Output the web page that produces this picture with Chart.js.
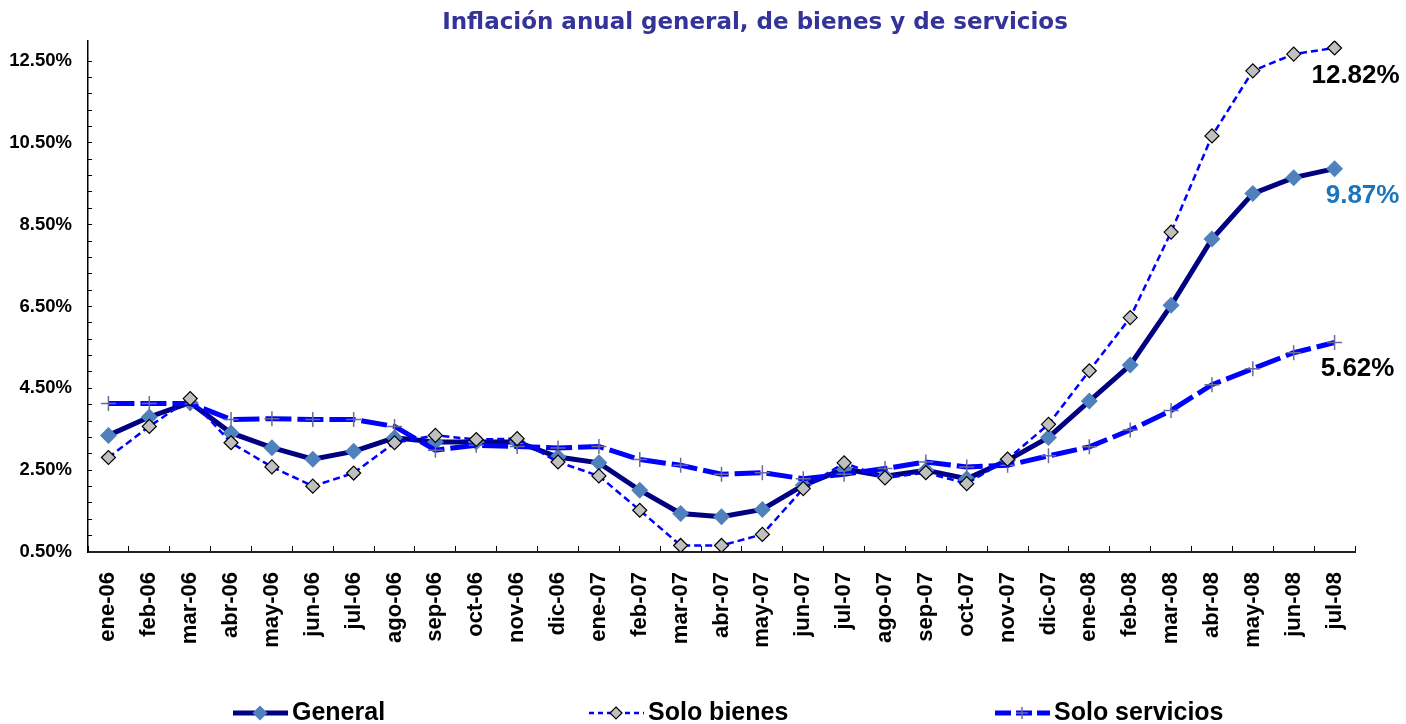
<!DOCTYPE html>
<html><head><meta charset="utf-8">
<script src="https://cdn.jsdelivr.net/npm/chart.js@4.4.1/dist/chart.umd.min.js"></script>
<style>html,body{margin:0;padding:0;background:#fff;}#wrap{width:1406px;height:724px;}</style>
</head><body><div id="wrap"><canvas id="c" width="1406" height="724"></canvas></div>
<script>
const categories = ['ene-06','feb-06','mar-06','abr-06','may-06','jun-06','jul-06','ago-06','sep-06','oct-06','nov-06','dic-06',
  'ene-07','feb-07','mar-07','abr-07','may-07','jun-07','jul-07','ago-07','sep-07','oct-07','nov-07','dic-07',
  'ene-08','feb-08','mar-08','abr-08','may-08','jun-08','jul-08'];
const general = [3.35,3.80,4.15,3.41,3.05,2.77,2.96,3.29,3.19,3.19,3.19,2.82,
  2.68,2.01,1.44,1.36,1.54,2.13,2.53,2.35,2.50,2.29,2.74,3.30,
  4.19,5.07,6.53,8.15,9.26,9.65,9.87];
const soloBienes = [2.81,3.57,4.25,3.17,2.58,2.11,2.43,3.17,3.35,3.25,3.27,2.70,
  2.36,1.52,0.66,0.66,0.93,2.05,2.68,2.31,2.44,2.17,2.77,3.62,
  4.93,6.23,8.32,10.67,12.26,12.67,12.82];
const soloServicios = [4.13,4.13,4.13,3.74,3.76,3.74,3.74,3.57,2.99,3.11,3.08,3.04,
  3.08,2.76,2.62,2.40,2.44,2.29,2.40,2.54,2.70,2.58,2.62,2.85,
  3.07,3.48,3.96,4.59,4.98,5.37,5.62];
const seriesNames = ['General','Solo bienes','Solo servicios'];
const yTickLabels = [0.5,2.5,4.5,6.5,8.5,10.5,12.5];
const yMinorTicks = [0.5,0.9,1.3,1.7,2.1,2.5,2.9,3.3,3.7,4.1,4.5,4.9,5.3,5.7,6.1,6.5,6.9,7.3,7.7,8.1,8.5,8.9,9.3,9.7,10.1,10.5,10.9,11.3,11.7,12.1,12.5];
const endLabels = ['9.87%','12.82%','5.62%'];
const titleText = 'Inflación anual general, de bienes y de servicios';

const FONT = "'Liberation Sans', Arial, sans-serif";
const TITLE_FONT = "'DejaVu Sans', 'Liberation Sans', Arial, sans-serif";

function drawMarker(ctx, style, x, y, r, fill, stroke, bw) {
  ctx.save();
  ctx.beginPath();
  ctx.setLineDash([]);
  if (style === 'rectRot') {
    ctx.moveTo(x, y - r); ctx.lineTo(x + r, y); ctx.lineTo(x, y + r); ctx.lineTo(x - r, y); ctx.closePath();
    ctx.fillStyle = fill; ctx.fill();
    if (bw > 0) { ctx.lineWidth = bw; ctx.strokeStyle = stroke; ctx.stroke(); }
  } else {
    ctx.moveTo(x - r, y); ctx.lineTo(x + r, y); ctx.moveTo(x, y - r); ctx.lineTo(x, y + r);
    ctx.lineWidth = bw; ctx.strokeStyle = stroke; ctx.stroke();
  }
  ctx.restore();
}

const customLegend = {
  id: 'customLegend',
  afterDraw(chart) {
    const ctx = chart.ctx;
    const starts = [233, 589, 995];
    const y = 713;
    chart.data.datasets.forEach((ds, i) => {
      const x0 = starts[i];
      ctx.save();
      ctx.beginPath();
      ctx.setLineDash(ds.legendDash || []);
      ctx.lineWidth = ds.borderWidth;
      ctx.strokeStyle = ds.borderColor;
      ctx.moveTo(x0, y); ctx.lineTo(x0 + 55, y);
      ctx.stroke();
      ctx.restore();
      drawMarker(ctx, ds.pointStyle, x0 + 27, y, ds.legendRadius, ds.pointBackgroundColor, ds.pointBorderColor, ds.pointBorderWidth);
      ctx.save();
      ctx.font = "bold 25px " + FONT;
      ctx.fillStyle = '#000';
      ctx.textBaseline = 'middle';
      ctx.textAlign = 'left';
      ctx.fillText(ds.label, x0 + 59, y);
      ctx.restore();
    });
  }
};

const endLabelPlugin = {
  id: 'endLabelPlugin',
  afterDatasetsDraw(chart) {
    const ctx = chart.ctx;
    const cfg = [
      {dx: 28, dy: 27, color: '#1B75BC'},
      {dx: 21, dy: 28, color: '#000000'},
      {dx: 23, dy: 26, color: '#000000'}
    ];
    chart.data.datasets.forEach((ds, i) => {
      const meta = chart.getDatasetMeta(i);
      const pt = meta.data[meta.data.length - 1];
      ctx.save();
      ctx.font = "bold 26px " + FONT;
      ctx.fillStyle = cfg[i].color;
      ctx.textAlign = 'center';
      ctx.textBaseline = 'middle';
      ctx.fillText(endLabels[i], pt.x + cfg[i].dx, pt.y + cfg[i].dy);
      ctx.restore();
    });
  }
};

const shiftTitle = {
  id: 'shiftTitle',
  afterLayout(chart) {
    if (chart.titleBlock) {
      const c = (chart.titleBlock.left + chart.titleBlock.right) / 2;
      const d = 755 - c;
      chart.titleBlock.left += d; chart.titleBlock.right += d;
    }
  }
};

new Chart(document.getElementById('c'), {
  type: 'line',
  data: {
    labels: categories,
    datasets: [
      { label: seriesNames[0], data: general, borderColor: '#000080', borderWidth: 5, tension: 0,
        pointStyle: 'rectRot', pointRadius: 8.5, pointBackgroundColor: '#4F81BD', pointBorderColor: '#4F81BD', pointBorderWidth: 0,
        legendRadius: 7.5, order: 3 },
      { label: seriesNames[1], data: soloBienes, borderColor: '#0000FF', borderWidth: 2.5, borderDash: [7, 4], legendDash: [5, 4], tension: 0,
        pointStyle: 'rectRot', pointRadius: 7, pointBackgroundColor: '#C0C0C0', pointBorderColor: '#000000', pointBorderWidth: 1.2,
        legendRadius: 6, order: 1 },
      { label: seriesNames[2], data: soloServicios, borderColor: '#0000FF', borderWidth: 5, borderDash: [26, 6], legendDash: [16, 5], tension: 0,
        pointStyle: 'cross', pointRadius: 7.5, pointBackgroundColor: '#6B6B9B', pointBorderColor: '#6B6B9B', pointBorderWidth: 1.5,
        legendRadius: 6, order: 2 }
    ]
  },
  options: {
    responsive: false,
    animation: false,
    events: [],
    layout: { padding: { left: 0, right: 51, top: 0, bottom: 40 } },
    plugins: {
      legend: { display: false },
      tooltip: { enabled: false },
      title: {
        display: true, text: titleText, color: '#333399',
        font: { family: TITLE_FONT, size: 23, weight: 'bold' },
        padding: { top: 9.5, bottom: 3.5 }
      }
    },
    scales: {
      x: {
        type: 'category', offset: true,
        grid: { offset: true, drawOnChartArea: false, color: '#000', tickLength: -6, lineWidth: 1 },
        border: { color: '#222', width: 2 },
        ticks: { minRotation: 90, maxRotation: 90, autoSkip: false, color: '#000', padding: 26,
          font: { family: FONT, size: 22, weight: 'bold' } },
        afterFit(s) { s.height = 132; }
      },
      y: {
        min: 0.5, max: 13,
        afterBuildTicks(s) { s.ticks = yMinorTicks.map(v => ({ value: v })); },
        grid: { drawOnChartArea: false, color: '#000', tickLength: -4, lineWidth: 1 },
        border: { color: '#000', width: 1.5 },
        ticks: { autoSkip: false, color: '#000', padding: 20,
          font: { family: FONT, size: 18.5, weight: 'bold' },
          callback(v) { return yTickLabels.some(t => Math.abs(t - v) < 1e-6) ? Number(v).toFixed(2) + '%' : ''; } },
        afterFit(s) { s.width = 88; }
      }
    }
  },
  plugins: [customLegend, endLabelPlugin, shiftTitle]
});
</script></body></html>
